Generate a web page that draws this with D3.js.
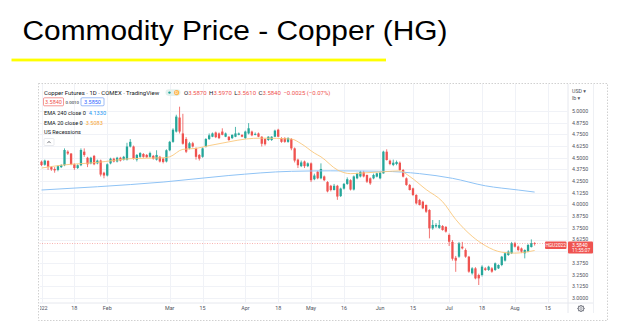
<!DOCTYPE html>
<html>
<head>
<meta charset="utf-8">
<script src="https://cdn.jsdelivr.net/npm/d3@7"></script>
<style>
  body { margin: 0; background: #fff; }
  svg { display: block; }
</style>
</head>
<body>
<svg id="chart" width="624" height="323"></svg>
<script>
// ---- data ---------------------------------------------------------------
const title = "Commodity Price - Copper (HG)";

// daily OHLC, one entry per trading day starting 3 Jan 2022
const opens = [4.458,4.425,4.465,4.40,4.38,4.37,4.40,4.42,4.565,4.545,4.43,4.39,4.42,4.565,4.50,4.44,4.52,4.44,4.47,4.34,
  4.31,4.44,4.49,4.46,4.50,4.48,4.48,4.62,4.62,4.48,4.51,4.54,4.53,4.51,4.52,4.48,4.51,4.49,4.46,4.58,
  4.67,4.78,4.93,4.76,4.70,4.60,4.655,4.60,4.53,4.51,4.62,4.70,4.725,4.77,4.76,4.78,4.725,4.725,4.71,4.725,
  4.745,4.745,4.71,4.76,4.78,4.745,4.76,4.725,4.70,4.69,4.69,4.725,4.80,4.71,4.71,4.67,4.70,4.60,4.48,4.41,
  4.46,4.41,4.44,4.27,4.35,4.28,4.30,4.24,4.20,4.155,4.20,4.09,4.17,4.22,4.26,4.16,4.28,4.30,4.345,4.316,
  4.28,4.28,4.298,4.28,4.333,4.565,4.469,4.423,4.433,4.447,4.369,4.28,4.209,4.173,4.102,4.048,4.03,3.995,3.941,3.745,
  3.765,3.75,3.77,3.76,3.674,3.60,3.43,3.442,3.549,3.513,3.442,3.264,3.317,3.246,3.246,3.317,3.30,3.317,3.30,3.317,
  3.353,3.40,3.46,3.478,3.585,3.55,3.53,3.478,3.496,3.545,3.587];
const highs = [4.47,4.48,4.475,4.41,4.40,4.42,4.43,4.60,4.58,4.55,4.44,4.43,4.60,4.60,4.51,4.51,4.53,4.48,4.48,4.35,
  4.44,4.50,4.50,4.51,4.51,4.52,4.66,4.70,4.63,4.54,4.56,4.55,4.54,4.565,4.53,4.58,4.52,4.50,4.59,4.68,
  4.815,4.96,5.046,4.97,4.72,4.67,4.67,4.61,4.54,4.61,4.71,4.76,4.77,4.78,4.77,4.815,4.77,4.73,4.75,4.83,
  4.77,4.75,4.79,4.87,4.79,4.77,4.77,4.73,4.71,4.73,4.73,4.80,4.81,4.72,4.72,4.72,4.71,4.61,4.49,4.47,
  4.47,4.45,4.45,4.33,4.36,4.44,4.31,4.25,4.21,4.22,4.21,4.18,4.23,4.29,4.27,4.31,4.34,4.36,4.36,4.32,
  4.29,4.33,4.34,4.35,4.575,4.59,4.48,4.48,4.47,4.46,4.38,4.29,4.22,4.18,4.11,4.06,4.04,4.00,3.95,3.834,
  3.80,3.834,3.78,3.77,3.69,3.62,3.45,3.60,3.60,3.53,3.45,3.33,3.33,3.26,3.35,3.33,3.345,3.33,3.38,3.36,
  3.45,3.49,3.51,3.60,3.60,3.56,3.54,3.52,3.58,3.627,3.597];
const lows = [4.41,4.415,4.37,4.36,4.34,4.355,4.39,4.41,4.53,4.42,4.37,4.38,4.41,4.51,4.40,4.43,4.42,4.43,4.30,4.28,
  4.30,4.43,4.45,4.45,4.46,4.47,4.47,4.61,4.48,4.46,4.50,4.50,4.50,4.50,4.48,4.47,4.45,4.44,4.45,4.57,
  4.66,4.77,4.76,4.64,4.55,4.59,4.61,4.48,4.47,4.50,4.61,4.69,4.72,4.71,4.70,4.74,4.72,4.68,4.70,4.72,
  4.74,4.72,4.70,4.75,4.73,4.74,4.72,4.62,4.63,4.68,4.68,4.72,4.72,4.66,4.66,4.66,4.58,4.45,4.39,4.40,
  4.39,4.40,4.24,4.26,4.27,4.27,4.25,4.13,4.14,4.15,4.05,4.08,4.16,4.21,4.15,4.15,4.27,4.29,4.29,4.23,
  4.21,4.27,4.29,4.27,4.33,4.47,4.42,4.41,4.42,4.36,4.29,4.20,4.15,4.09,4.00,3.99,3.95,3.91,3.638,3.73,
  3.75,3.74,3.72,3.70,3.556,3.40,3.28,3.43,3.52,3.43,3.27,3.25,3.20,3.139,3.23,3.29,3.29,3.27,3.29,3.31,
  3.34,3.39,3.45,3.47,3.54,3.50,3.48,3.424,3.49,3.54,3.561];
const closes = [4.422,4.47,4.405,4.375,4.365,4.41,4.42,4.583,4.545,4.43,4.39,4.42,4.583,4.53,4.43,4.50,4.43,4.47,4.32,4.31,
  4.43,4.49,4.46,4.50,4.47,4.51,4.62,4.67,4.49,4.53,4.55,4.51,4.505,4.55,4.49,4.53,4.46,4.455,4.58,4.67,
  4.80,4.94,4.78,4.65,4.565,4.655,4.62,4.51,4.49,4.60,4.70,4.74,4.76,4.72,4.71,4.745,4.76,4.69,4.745,4.76,
  4.76,4.725,4.78,4.815,4.74,4.755,4.725,4.65,4.645,4.725,4.725,4.79,4.725,4.67,4.67,4.71,4.60,4.47,4.42,4.45,
  4.41,4.44,4.26,4.31,4.28,4.38,4.26,4.14,4.155,4.20,4.085,4.17,4.22,4.27,4.16,4.30,4.333,4.35,4.30,4.244,
  4.226,4.316,4.333,4.34,4.565,4.476,4.433,4.447,4.455,4.369,4.298,4.209,4.155,4.102,4.012,3.995,3.959,3.923,3.745,3.781,
  3.781,3.78,3.727,3.71,3.602,3.42,3.40,3.585,3.531,3.442,3.282,3.317,3.21,3.21,3.335,3.30,3.335,3.282,3.371,3.353,
  3.442,3.478,3.496,3.585,3.549,3.513,3.496,3.513,3.567,3.5865,3.584];

// moving averages (bar index, value)
const ema20Bars = [0,6,17,27,37,39,43,47,51,57,62,67,76,79,83,85,90,94,99,104,109,112,117,122,126,131,135,140,144,150];
const ema20Vals = [4.39,4.42,4.45,4.49,4.50,4.51,4.59,4.60,4.63,4.67,4.70,4.71,4.70,4.65,4.55,4.51,4.37,4.33,4.34,4.35,4.36,4.30,4.16,4.03,3.84,3.66,3.56,3.49,3.48,3.5083];
const ema240Bars = [0,17,37,57,76,88,104,115,125,135,145,150];
const ema240Vals = [4.155,4.19,4.24,4.31,4.355,4.36,4.355,4.33,4.28,4.20,4.155,4.133];

// axis labels
const timeTickBars = [0,10,20,39,49,62,72,82,92,103,113,124,134,144,154];
const timeTickLabels = ["2022","18","Feb","Mar","15","Apr","18","May","16","Jun","15","Jul","18","Aug","15"];
const priceTicks = [5.0,4.875,4.75,4.625,4.5,4.375,4.25,4.125,4.0,3.875,3.75,3.625,3.5,3.375,3.25,3.125,3.0];
const priceTickLabels = ["5.0000","4.8750","4.7500","4.6250","4.5000","4.3750","4.2500","4.1250","4.0000","3.8750","3.7500","3.6250","3.5000","3.3750","3.2500","3.1250","3.0000"];

const lastPrice = 3.584;
const symbolCode = "HGU2022";
const countdown = "11:55:07";

// ---- layout -------------------------------------------------------------
const UP = "#26a69a", DOWN = "#ef5350";
const FONT = "Roboto, 'DejaVu Sans', sans-serif";
const plot = { left: 39.5, right: 567.5, top: 84, bottom: 302.5 };

const svg = d3.select("#chart");

const x = d3.scaleLinear().domain([0, 154]).range([41.5, 41.5 + 154 * 3.2875]);
const y = d3.scaleLinear().domain([3, 5]).range([298, 111]);

// slide heading
svg.append("text")
  .attr("x", 22.5).attr("y", 40)
  .attr("font-family", "'Liberation Sans', Arial, sans-serif")
  .attr("font-size", 27)
  .attr("textLength", 425).attr("lengthAdjust", "spacingAndGlyphs")
  .attr("fill", "#000")
  .text(title);
svg.append("rect")
  .attr("x", 11.5).attr("y", 58.6).attr("width", 374.5).attr("height", 2.8)
  .attr("fill", "#ffff00");

// screenshot frame
svg.append("rect")
  .attr("x", 38.5).attr("y", 83.5).attr("width", 569).attr("height", 237)
  .attr("fill", "#fff").attr("stroke", "#c4c4c4").attr("stroke-width", 0.8)
  .attr("stroke-dasharray", "1.5,1.5");

// clip for the price pane
svg.append("defs").append("clipPath").attr("id", "pane")
  .append("rect")
  .attr("x", plot.left).attr("y", plot.top)
  .attr("width", plot.right - plot.left).attr("height", plot.bottom - plot.top);

const pane = svg.append("g").attr("clip-path", "url(#pane)");

// grid
pane.append("g").selectAll("line").data(priceTicks).join("line")
  .attr("x1", plot.left).attr("x2", plot.right)
  .attr("y1", d => Math.round(y(d)) + 0.5).attr("y2", d => Math.round(y(d)) + 0.5)
  .attr("stroke", "#f0f2f7").attr("stroke-width", 1);
pane.append("g").selectAll("line").data(timeTickBars).join("line")
  .attr("x1", d => Math.round(x(d)) + 0.5).attr("x2", d => Math.round(x(d)) + 0.5)
  .attr("y1", plot.top).attr("y2", plot.bottom)
  .attr("stroke", "#f0f2f7").attr("stroke-width", 1);

// candles
const bars = closes.map((c, i) => ({ i, o: opens[i], h: highs[i], l: lows[i], c }));
const bodyW = 2.3;
const candle = pane.append("g").selectAll("g").data(bars).join("g");
candle.append("line")
  .attr("x1", d => x(d.i)).attr("x2", d => x(d.i))
  .attr("y1", d => y(d.h)).attr("y2", d => y(d.l))
  .attr("stroke", d => d.c >= d.o ? UP : DOWN).attr("stroke-width", 0.8);
candle.append("rect")
  .attr("x", d => x(d.i) - bodyW / 2)
  .attr("y", d => y(Math.max(d.o, d.c)))
  .attr("width", bodyW)
  .attr("height", d => Math.max(0.8, Math.abs(y(d.o) - y(d.c))))
  .attr("fill", d => d.c >= d.o ? UP : DOWN);

// moving averages
const line = d3.line().x(d => x(d[0])).y(d => y(d[1])).curve(d3.curveMonotoneX);
pane.append("path")
  .datum(d3.zip(ema240Bars, ema240Vals))
  .attr("d", line).attr("fill", "none")
  .attr("stroke", "#8fc3f5").attr("stroke-width", 1);
pane.append("path")
  .datum(d3.zip(ema20Bars, ema20Vals))
  .attr("d", line).attr("fill", "none")
  .attr("stroke", "#f9c77c").attr("stroke-width", 0.9);

// last price line
pane.append("line")
  .attr("x1", plot.left).attr("x2", plot.right)
  .attr("y1", y(lastPrice)).attr("y2", y(lastPrice))
  .attr("stroke", DOWN).attr("stroke-width", 0.7).attr("stroke-dasharray", "1,1.5")
  .attr("opacity", 0.7);

// pane separators
svg.append("line").attr("x1", plot.right + 0.5).attr("x2", plot.right + 0.5)
  .attr("y1", plot.top).attr("y2", 313).attr("stroke", "#e6e8ee").attr("stroke-width", 1);
svg.append("line").attr("x1", plot.left).attr("x2", 593)
  .attr("y1", plot.bottom + 0.5).attr("y2", plot.bottom + 0.5).attr("stroke", "#e6e8ee").attr("stroke-width", 1);
svg.append("line").attr("x1", 593.5).attr("x2", 593.5)
  .attr("y1", plot.top).attr("y2", 313).attr("stroke", "#eef0f4").attr("stroke-width", 1);

// last price label geometry (axis labels under it are suppressed)
const ly = y(lastPrice);
const tagTop = ly - 1.8, tagH = 12;

// price axis
const priceAxis = svg.append("g");
const visibleTicks = priceTicks.map((p, k) => ({ p, label: priceTickLabels[k] }))
  .filter(d => y(d.p) + 2 < tagTop || y(d.p) - 2 > tagTop + tagH);
priceAxis.selectAll("text").data(visibleTicks).join("text")
  .attr("x", 572).attr("y", d => y(d.p) + 1.9)
  .attr("font-family", FONT).attr("font-size", 5.3).attr("fill", "#50535e")
  .text(d => d.label);
priceAxis.append("text").attr("x", 572).attr("y", 92.5)
  .attr("font-family", FONT).attr("font-size", 5.3).attr("fill", "#50535e").text("USD ▾");
priceAxis.append("text").attr("x", 572).attr("y", 100)
  .attr("font-family", FONT).attr("font-size", 5.3).attr("fill", "#50535e").text("lb ▾");

// last price label
svg.append("rect").attr("x", 568).attr("y", tagTop).attr("width", 25).attr("height", tagH)
  .attr("rx", 1).attr("fill", DOWN);
svg.append("text").attr("x", 572).attr("y", tagTop + 5.3)
  .attr("font-family", FONT).attr("font-size", 5.1).attr("fill", "#fff").text(lastPrice.toFixed(4));
svg.append("text").attr("x", 572).attr("y", tagTop + 10.6)
  .attr("font-family", FONT).attr("font-size", 4.7).attr("fill", "#fff").text(countdown);
svg.append("rect").attr("x", 545).attr("y", tagTop).attr("width", 21.5).attr("height", 7.5)
  .attr("rx", 1).attr("fill", DOWN);
svg.append("text").attr("x", 555.7).attr("y", tagTop + 5.4).attr("text-anchor", "middle")
  .attr("font-family", FONT).attr("font-size", 4.8).attr("fill", "#fff").text(symbolCode);

// time axis
const timeAxis = svg.append("g").attr("clip-path", "url(#timeclip)");
svg.select("defs").append("clipPath").attr("id", "timeclip")
  .append("rect").attr("x", plot.left + 0.5).attr("y", plot.bottom).attr("width", plot.right - plot.left).attr("height", 14);
timeAxis.selectAll("text").data(timeTickBars).join("text")
  .attr("x", d => x(d)).attr("y", 310)
  .attr("text-anchor", "middle")
  .attr("font-family", FONT).attr("font-size", 5.4).attr("fill", "#50535e")
  .text((d, k) => timeTickLabels[k]);

// settings gear
const gear = svg.append("g").attr("transform", "translate(581,308.5)");
gear.selectAll("line").data(d3.range(0, 360, 45)).join("line")
  .attr("x1", 0).attr("y1", 0).attr("x2", 0).attr("y2", -3.6)
  .attr("transform", d => `rotate(${d})`)
  .attr("stroke", "#6a6d78").attr("stroke-width", 1.3);
gear.append("circle").attr("r", 2.7).attr("fill", "#fff").attr("stroke", "#6a6d78").attr("stroke-width", 0.9);
gear.append("circle").attr("r", 1).attr("fill", "#fff").attr("stroke", "#6a6d78").attr("stroke-width", 0.6);

// legend
const legend = svg.append("g").attr("font-family", FONT);
legend.append("text").attr("x", 44).attr("y", 94.5).attr("font-size", 6).attr("fill", "#131722")
  .text("Copper Futures · 1D · COMEX · TradingView");
legend.append("rect").attr("x", 165.5).attr("y", 89.3).attr("width", 15).attr("height", 6.6).attr("rx", 3.3)
  .attr("fill", "#e3f1ee");
legend.append("circle").attr("cx", 169.5).attr("cy", 92.6).attr("r", 1.2).attr("fill", UP);
legend.append("circle").attr("cx", 176.6).attr("cy", 92.6).attr("r", 2.6).attr("fill", "#ffb74d");
legend.append("text").attr("x", 176.6).attr("y", 94.3).attr("text-anchor", "middle")
  .attr("font-size", 4.2).attr("fill", "#fff").text("D");

const ohlc = legend.append("text").attr("x", 184).attr("y", 94.5).attr("font-size", 6);
[["O", "3.5870"], ["H", "3.5970"], ["L", "3.5610"], ["C", "3.5840"]].forEach(([k, v], j) => {
  ohlc.append("tspan").attr("fill", "#131722").attr("dx", j ? 2.5 : 0).text(k);
  ohlc.append("tspan").attr("fill", DOWN).text(v);
});
ohlc.append("tspan").attr("fill", DOWN).attr("dx", 2.5).text("−0.0025 (−0.07%)");

// bid / spread / ask
legend.append("rect").attr("x", 43.5).attr("y", 97.8).attr("width", 20).attr("height", 8)
  .attr("rx", 1).attr("fill", "#fff").attr("stroke", DOWN).attr("stroke-width", 0.6);
legend.append("text").attr("x", 53.5).attr("y", 103.8).attr("text-anchor", "middle")
  .attr("font-size", 5.5).attr("fill", DOWN).text("3.5840");
legend.append("text").attr("x", 72.3).attr("y", 103.6).attr("text-anchor", "middle")
  .attr("font-size", 4.4).attr("fill", "#131722").text("0.0010");
legend.append("rect").attr("x", 81).attr("y", 97.8).attr("width", 23).attr("height", 8)
  .attr("rx", 1).attr("fill", "#fff").attr("stroke", "#5b8ff0").attr("stroke-width", 0.6);
legend.append("text").attr("x", 92.5).attr("y", 103.8).attr("text-anchor", "middle")
  .attr("font-size", 5.5).attr("fill", "#2962ff").text("3.5850");

// indicator rows
const row = (yy, label, value, color) => {
  const t = legend.append("text").attr("x", 44).attr("y", yy).attr("font-size", 5.6);
  t.append("tspan").attr("fill", "#131722").text(label);
  if (value) t.append("tspan").attr("dx", 3).attr("fill", color).text(value);
};
row(115.3, "EMA 240 close 0", "4.1330", "#2196f3");
row(124.7, "EMA 20 close 0", "3.5083", "#f7a635");
row(134.2, "US Recessions", null, null);
legend.append("rect").attr("x", 44).attr("y", 138.5).attr("width", 10).attr("height", 7)
  .attr("rx", 1).attr("fill", "#fff").attr("stroke", "#d1d4dc").attr("stroke-width", 0.5);
legend.append("path").attr("d", "M47.4,143.1 L49,141.4 L50.6,143.1")
  .attr("fill", "none").attr("stroke", "#131722").attr("stroke-width", 0.6);
</script>
</body>
</html>
